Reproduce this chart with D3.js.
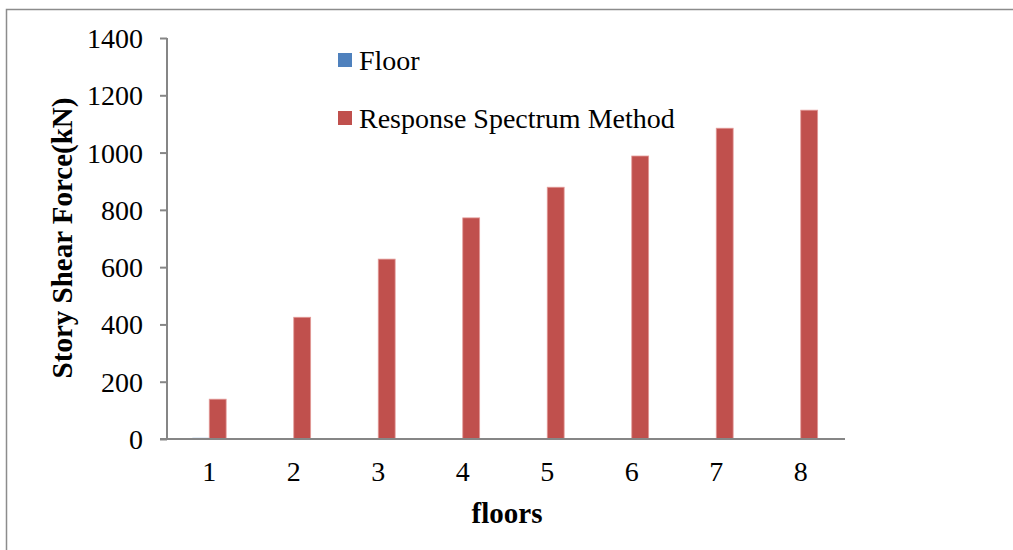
<!DOCTYPE html>
<html>
<head>
<meta charset="utf-8">
<script src="https://cdn.jsdelivr.net/npm/d3@7"></script>
<style>
  body { margin: 0; background: #fff; }
  text { font-family: "Liberation Serif", "Times New Roman", serif; fill: #000; }
</style>
</head>
<body>
<div id="chart"></div>
<script>
// data
const floors = ["1", "2", "3", "4", "5", "6", "7", "8"];
const floorValues = [4, 2, 2, 0.5, 0.5, 0.5, 0.5, 0.5];
const responseSpectrum = [139, 425, 628, 772, 879, 988, 1085, 1148];
const yTicks = [0, 200, 400, 600, 800, 1000, 1200, 1400];
const seriesNames = ["Floor", "Response Spectrum Method"];
const seriesColors = ["#4F81BD", "#C0504D"];

const W = 1013, H = 550;
const margin = { top: 38, right: 170, bottom: 111, left: 167 };
const width = W - margin.left - margin.right,
  height = H - margin.top - margin.bottom;

const svg = d3.select("#chart")
  .append("svg")
  .attr("width", W)
  .attr("height", H);

// outer chart frame (runs off the right and bottom)
svg.append("rect")
  .attr("x", 6.5).attr("y", 9.5)
  .attr("width", W + 20).attr("height", H + 20)
  .attr("fill", "none")
  .attr("stroke", "#8c8c8c")
  .attr("stroke-width", 1.5);

const g = svg.append("g")
  .attr("transform", `translate(${margin.left}, ${margin.top})`);

const x = d3.scaleBand()
  .domain(floors)
  .range([0, width]);

const y = d3.scaleLinear()
  .domain([0, 1400])
  .range([height, 0]);

const barW = x.bandwidth() * 0.2;

// Y axis
const yAxis = g.append("g")
  .call(d3.axisLeft(y).tickValues(yTicks).tickSize(7).tickPadding(17).tickFormat(d3.format("d")));
yAxis.selectAll("line, path").attr("stroke", "#868686").attr("stroke-width", 2);
yAxis.select(".domain").attr("d", `M0,${height}V0`);
yAxis.selectAll("text").style("font-size", "28px").attr("dy", "0.34em");

// series
const series = [floorValues, responseSpectrum];
series.forEach(function(vals, si) {
  g.selectAll(".bar" + si)
    .data(vals)
    .join("rect")
    .attr("class", "bar" + si)
    .attr("x", (d, i) => x(floors[i]) + x.bandwidth() / 2 + (si - 1) * barW)
    .attr("y", d => y(d))
    .attr("width", barW)
    .attr("height", d => height - y(d))
    .attr("fill", seriesColors[si])
    .attr("stroke", si === 1 ? "#e39a98" : "none")
    .attr("stroke-width", 0.8);
});

// X axis
const xAxis = g.append("g")
  .attr("transform", `translate(0, ${height})`)
  .call(d3.axisBottom(x).tickSize(0).tickPadding(22));
xAxis.select(".domain").attr("stroke", "#868686").attr("stroke-width", 2)
  .attr("d", `M-7,0H${width + 2}`);
xAxis.selectAll("text").style("font-size", "28px");

// axis titles
g.append("text")
  .attr("x", width / 2 + 2)
  .attr("y", height + 84)
  .attr("text-anchor", "middle")
  .style("font-size", "29px")
  .style("font-weight", "bold")
  .text("floors");

g.append("text")
  .attr("transform", `translate(${62 - margin.left}, ${238 - margin.top}) rotate(-90)`)
  .attr("text-anchor", "middle")
  .style("font-size", "29px")
  .style("font-weight", "bold")
  .attr("dy", "0.35em")
  .text("Story Shear  Force(kN)");

// legend
const legend = svg.append("g");
seriesNames.forEach(function(name, i) {
  const ly = 60 + i * 58;
  legend.append("rect")
    .attr("x", 338).attr("y", ly - 7)
    .attr("width", 14).attr("height", 14)
    .attr("fill", seriesColors[i]);
  legend.append("text")
    .attr("x", 359).attr("y", ly)
    .attr("dy", "0.35em")
    .style("font-size", "28px")
    .text(name);
});
</script>
</body>
</html>
